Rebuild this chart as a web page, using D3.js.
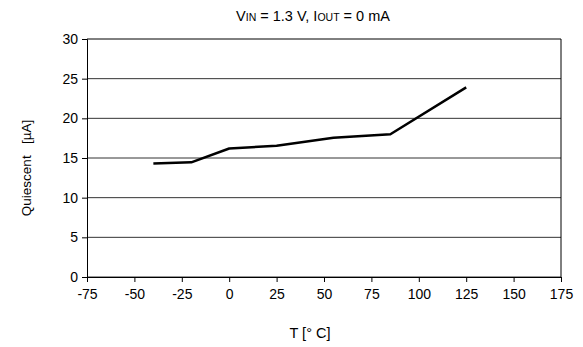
<!DOCTYPE html>
<html>
<head>
<meta charset="utf-8">
<script src="https://d3js.org/d3.v7.min.js"></script>
<style>
  body { margin: 0; background: #fff; }
  svg { font-family: "Liberation Sans", Arial, sans-serif; }
</style>
</head>
<body>
<svg id="chart" width="583" height="347"></svg>
<script>
// data
const temps = [-40, -20, 0, 25, 55, 85, 125];
const current = [14.3, 14.45, 16.2, 16.55, 17.55, 18.0, 23.9];
const xTicks = [-75, -50, -25, 0, 25, 50, 75, 100, 125, 150, 175];
const yTicks = [0, 5, 10, 15, 20, 25, 30];

const svg = d3.select('#chart');
const plotLeft = 87, plotRight = 561, plotTop = 39, plotBottom = 277;

const x = d3.scaleLinear().domain([-75, 175]).range([plotLeft, plotRight]);
const y = d3.scaleLinear().domain([0, 30]).range([plotBottom, plotTop]);

// horizontal gridlines
svg.append('g').selectAll('line').data(yTicks).enter().append('line')
  .attr('x1', plotLeft).attr('x2', plotRight)
  .attr('y1', d => y(d)).attr('y2', d => y(d))
  .attr('stroke', d => d === 30 ? '#000' : '#333').attr('stroke-width', 1);

// right border
svg.append('line').attr('x1', plotRight).attr('x2', plotRight)
  .attr('y1', plotTop).attr('y2', plotBottom)
  .attr('stroke', '#000');

const xAxis = svg.append('g').attr('transform', `translate(0,${plotBottom})`)
  .call(d3.axisBottom(x).tickValues(xTicks).tickSize(5).tickPadding(4).tickFormat(d => String(d)));
const yAxis = svg.append('g').attr('transform', `translate(${plotLeft},0)`)
  .call(d3.axisLeft(y).tickValues(yTicks).tickSize(5).tickPadding(4).tickFormat(d => String(d)));

[xAxis, yAxis].forEach(a => {
  a.select('.domain').attr('stroke', '#000');
  a.selectAll('.tick line').attr('stroke', '#000');
  a.selectAll('text').attr('font-size', 14).attr('fill', '#000')
    .attr('font-family', '"Liberation Sans", Arial, sans-serif');
});
xAxis.selectAll('text').attr('dy', '0.9em');

// series line
const line = d3.line().x((d, i) => x(temps[i])).y(d => y(d));
svg.append('path').datum(current)
  .attr('d', line).attr('fill', 'none')
  .attr('stroke', '#000').attr('stroke-width', 2.5).attr('stroke-linejoin', 'round');

// title
const title = svg.append('text').attr('x', 313).attr('y', 21)
  .attr('text-anchor', 'middle').attr('font-size', 14.5).attr('fill', '#000');
title.append('tspan').text('V');
title.append('tspan').attr('font-size', 10.5).text('IN');
title.append('tspan').text(' = 1.3 V, I');
title.append('tspan').attr('font-size', 10.5).text('OUT');
title.append('tspan').text(' = 0 mA');

// axis labels
svg.append('text').attr('x', 310).attr('y', 338).attr('text-anchor', 'middle')
  .attr('font-size', 14.5).attr('fill', '#000')
  .attr('xml:space', 'preserve').text('T [\u00B0 C]');
svg.append('text').attr('transform', 'translate(31,168) rotate(-90)')
  .attr('text-anchor', 'middle').attr('font-size', 13.5).attr('fill', '#000')
  .attr('xml:space', 'preserve').text('Quiescent   [\u00B5A]');
</script>
</body>
</html>
